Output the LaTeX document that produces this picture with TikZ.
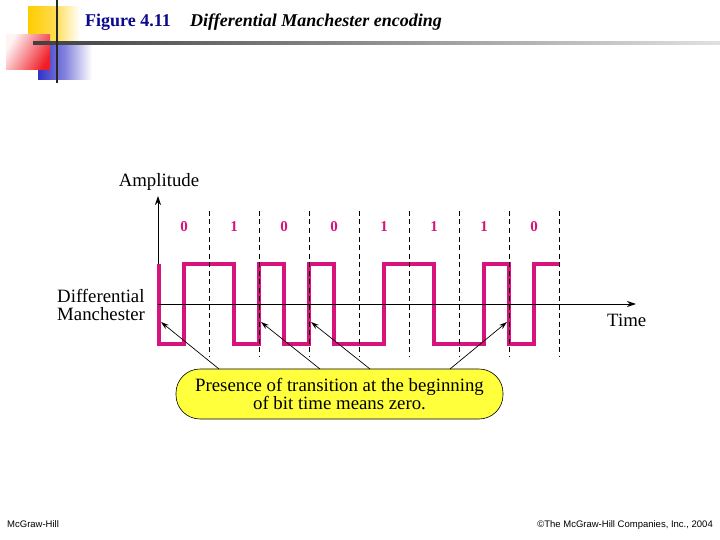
\documentclass[tikz,border=0pt]{standalone}
\usepackage{fontspec}
\setmainfont{Liberation Serif}
\newfontfamily\footfont{Liberation Sans}
\usetikzlibrary{arrows.meta}
\definecolor{sigpink}{RGB}{215,20,125}
\definecolor{titleblue}{RGB}{10,10,140}
\definecolor{boxyellow}{RGB}{255,255,60}
\definecolor{decoyellow}{RGB}{255,204,0}
\definecolor{decored}{RGB}{240,30,40}
\definecolor{decoblue}{RGB}{50,50,200}
\tikzset{
  lbl/.style={inner sep=0pt, font=\fontsize{18.8}{19}\selectfont},
  bitlbl/.style={inner sep=0pt, anchor=base, text=sigpink, font=\fontsize{15}{16}\selectfont\bfseries},
  bitdash/.style={draw=black, line width=0.9pt, dash pattern=on 5pt off 3.5pt},
  axisline/.style={draw=black, line width=1pt, -{Stealth[length=9pt,width=6pt]}},
  pointer/.style={draw=black, line width=0.7pt, -{Stealth[length=8pt,width=5pt]}},
  signal/.style={draw=sigpink, line width=4.2pt, line join=miter},
  callout/.style={draw=black, line width=0.6pt, fill=boxyellow, rounded corners=24pt,
    minimum width=327pt, minimum height=50pt, inner sep=0pt, align=center,
    font=\fontsize{18.8}{18.5}\selectfont},
}
\begin{document}
\begin{tikzpicture}[x=1pt,y=-1pt]
\useasboundingbox (0,0) rectangle (720,540);
\fill[white] (0,0) rectangle (720,540);
% corner decoration
\shade[left color=decoyellow, right color=white, middle color=decoyellow!70] (28,7) rectangle (80,43);
\shade[left color=decoblue, right color=white, middle color=decoblue!60] (38,43) rectangle (92,80);
\shade[left color=decored!5, right color=decored, shading angle=60] (6,35) rectangle (50,70);
\shade[left color=black!75, right color=black!12] (33,41.5) rectangle (720,45);
\draw[black!85, line width=2.5pt] (57,0) -- (57,83);
% title
\node[anchor=base west, inner sep=0pt, text=titleblue, font=\fontsize{18}{18}\selectfont\bfseries] (fig) at (85,27) {Figure 4.11};
\node[anchor=base west, inner sep=0pt, font=\fontsize{18}{18}\selectfont\bfseries\itshape] (ttl) at (190,27) {Differential Manchester encoding};
% axes
\coordinate (origin) at (158,304);
\coordinate (ytop) at (158,196);
\coordinate (xend) at (636,304);
\draw[axisline] (origin) -- (ytop);
\draw[axisline] (origin) -- (xend);
% signal
\draw[signal] (159,264) -- (159,344) -- (184,344) -- (184,264) -- (234,264) -- (234,344)
  -- (259,344) -- (259,264) -- (284,264) -- (284,344) -- (309,344) -- (309,264)
  -- (334,264) -- (334,344) -- (384,344) -- (384,264) -- (434,264) -- (434,344)
  -- (484,344) -- (484,264) -- (509,264) -- (509,344) -- (534,344) -- (534,264) -- (559,264);
\draw[black, line width=1pt] (origin) -- (600,304);
% bit boundaries
\foreach \bx in {209,259,309,359,409,459,509,559}{
  \draw[bitdash] (\bx,211) -- (\bx,356);
}
% bit labels
\foreach \bv [count=\i from 0] in {0,1,0,0,1,1,1,0}{
  \node[bitlbl] (b\i) at ({184+50*\i},231) {\bv};
}
% axis labels
\node[lbl, anchor=base] (amp) at (159,187) {Amplitude};
\node[lbl, anchor=base west, align=left] (dm1) at (57,302) {Differential};
\node[lbl, anchor=base west, align=left] (dm2) at (57,320) {Manchester};
\node[lbl, anchor=base west] (time) at (607,326) {Time};
% callout
\node[callout] (call) at (339.5,394) {Presence of transition at the beginning\\of bit time means zero.};
\coordinate (t1) at (161,322);
\coordinate (t2) at (261,322);
\coordinate (t3) at (311,322);
\coordinate (t4) at (507,322);
\coordinate (s1) at (219,369);
\coordinate (s2) at (320,369);
\coordinate (s3) at (370,369);
\coordinate (s4) at (450,369);
\draw[pointer] (s1) -- (t1);
\draw[pointer] (s2) -- (t2);
\draw[pointer] (s3) -- (t3);
\draw[pointer] (s4) -- (t4);
% footer
\node[anchor=base west, inner sep=0pt, font=\footfont\fontsize{9.5}{10}\selectfont] (mgh) at (7,527) {McGraw-Hill};
\node[anchor=base east, inner sep=0pt, font=\footfont\fontsize{9.5}{10}\selectfont] (copy) at (713,527) {©The McGraw-Hill Companies, Inc., 2004};
\end{tikzpicture}
\end{document}
